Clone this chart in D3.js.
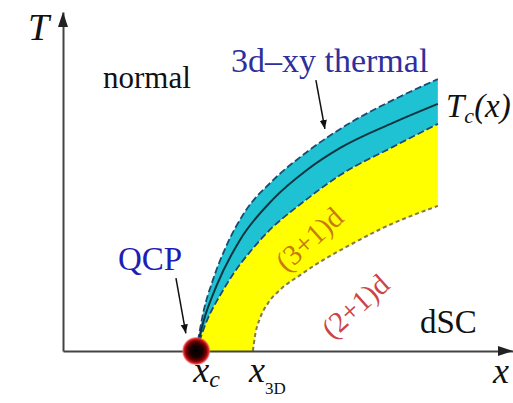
<!DOCTYPE html>
<html>
<head>
<meta charset="utf-8">
<script src="https://cdn.jsdelivr.net/npm/d3@7"></script>
<style>
  body { margin: 0; background: #fff; }
  svg text { font-family: "Liberation Serif", "DejaVu Serif", "Times New Roman", Times, serif; }
</style>
</head>
<body>
<div id="grafico"></div>
<script>
const width = 513
const height = 403
const serif = '"Liberation Serif", "DejaVu Serif", "Times New Roman", Times, serif'

// critical points on the doping axis
const xc = 2.96
const x3D = 4.22

// boundary curves, [x, T] in chart units
const thermalTop = [[2.96, 0], [3.13, 1.21], [3.33, 2.09], [3.64, 3.13], [4.04, 4.10], [4.67, 5.04], [5.42, 5.87], [6.38, 6.73], [7.33, 7.40], [8.33, 8.02]]
const tcLine = [[2.96, 0], [3.13, 0.91], [3.42, 1.95], [3.93, 3.27], [4.67, 4.48], [5.42, 5.34], [6.16, 5.99], [7.33, 6.73], [8.33, 7.29]]
const thermalBottom = [[2.96, 0], [3.16, 0.77], [3.56, 1.80], [4.38, 3.27], [5.42, 4.48], [6.16, 5.19], [7.33, 6.02], [8.33, 6.70]]
const quantumBottom = [[4.22, 0], [4.27, 0.47], [4.38, 0.97], [4.56, 1.42], [4.82, 1.80], [5.27, 2.24], [5.64, 2.57], [6.38, 3.13], [7.11, 3.63], [8.33, 4.28]]

// annotation arrows [[x0, T0], [x1, T1]]
const thermalArrow = [[5.62, 7.99], [5.82, 6.55]]
const qcpArrow = [[2.51, 2.15], [2.73, 0.52]]

const svg = d3.select('#grafico').append('svg')
              .attr('width', width)
              .attr('height', height)
              .attr('font-family', serif)

const x = d3.scaleLinear().domain([0, 10]).range([63, 513])
const y = d3.scaleLinear().domain([0, 10]).range([351, 12])

const defs = svg.append('defs')
defs.append('marker')
    .attr('id', 'head')
    .attr('viewBox', '0 0 10 10')
    .attr('refX', 10).attr('refY', 5)
    .attr('markerWidth', 9).attr('markerHeight', 9)
    .attr('markerUnits', 'userSpaceOnUse')
    .attr('orient', 'auto')
    .append('path').attr('d', 'M0,1L10,5L0,9Z').attr('fill', '#111')

const grad = defs.append('radialGradient').attr('id', 'qcp')
grad.selectAll('stop')
    .data([[0, '#000', 1], [0.45, '#1a0000', 1], [0.72, '#7a0000', 1], [0.88, '#d42020', 1], [1, '#ff8080', 0.6]])
    .enter().append('stop')
    .attr('offset', d => d[0])
    .attr('stop-color', d => d[1])
    .attr('stop-opacity', d => d[2])

const line = d3.line()
               .x(d => x(d[0]))
               .y(d => y(d[1]))
               .curve(d3.curveMonotoneX)

// filled bands
const yellowPath = line(thermalBottom) + 'L' + line(quantumBottom.slice().reverse()).slice(1) + 'Z'
svg.append('path').attr('d', yellowPath).attr('fill', '#ffff00')

const cyanPath = line(thermalTop) + 'L' + line(thermalBottom.slice().reverse()).slice(1) + 'Z'
svg.append('path').attr('d', cyanPath).attr('fill', '#1fc2d2')

// boundaries
svg.append('path').attr('d', line(quantumBottom))
   .attr('fill', 'none').attr('stroke', '#857a45').attr('stroke-width', 2).attr('stroke-dasharray', '4,3')
svg.append('path').attr('d', line(thermalBottom))
   .attr('fill', 'none').attr('stroke', '#1d4a72').attr('stroke-width', 1.8).attr('stroke-dasharray', '7,3')
svg.append('path').attr('d', line(thermalTop))
   .attr('fill', 'none').attr('stroke', '#1d4a72').attr('stroke-width', 1.8).attr('stroke-dasharray', '7,3')
svg.append('path').attr('d', line(tcLine))
   .attr('fill', 'none').attr('stroke', '#0c3440').attr('stroke-width', 2)

// axes without ticks
svg.append('g').attr('transform', `translate(0,${y(0)})`)
   .call(d3.axisBottom(x).tickValues([]).tickSizeOuter(0))
svg.append('g').attr('transform', `translate(${x(0)},0)`)
   .call(d3.axisLeft(y).tickValues([]).tickSizeOuter(0))
svg.selectAll('.domain').attr('stroke', '#444').attr('stroke-width', 2)

svg.append('path')
   .attr('d', `M${x(10)},${y(0)}L${x(10) - 15},${y(0) - 5}L${x(10) - 15},${y(0) + 5}Z`)
   .attr('fill', '#222')
svg.append('path')
   .attr('d', `M${x(0)},${y(10)}L${x(0) - 5},${y(10) + 15}L${x(0) + 5},${y(10) + 15}Z`)
   .attr('fill', '#222')

// arrows
svg.selectAll('.arrow')
   .data([thermalArrow, qcpArrow])
   .enter().append('line')
   .attr('x1', d => x(d[0][0])).attr('y1', d => y(d[0][1]))
   .attr('x2', d => x(d[1][0])).attr('y2', d => y(d[1][1]))
   .attr('stroke', '#111').attr('stroke-width', 1.5)
   .attr('marker-end', 'url(#head)')

// quantum critical point
svg.append('circle').attr('cx', x(xc)).attr('cy', y(0)).attr('r', 14).attr('fill', 'url(#qcp)')

// labels
function label(t, px, py, size, fill, italic) {
    return svg.append('text').attr('x', px).attr('y', py)
              .attr('font-family', serif)
              .attr('font-size', size).attr('fill', fill || '#111')
              .attr('font-style', italic ? 'italic' : 'normal')
              .text(t)
}
label('T', 28, 40, 38, '#111', true)
label('normal', 103, 88, 31)
label('3d\u2013xy thermal', 231, 72, 34, '#2e2e9c')
label('QCP', 118, 270, 33, '#1e1eb4')
label('dSC', 420, 333, 33)
label('x', 493, 383, 36, '#111', true)

const tc = label('T', 446, 117, 33, '#111', true)
tc.append('tspan').attr('font-size', 22).attr('dy', 6).text('c')
tc.append('tspan').attr('dy', -6).text('(x)')

const xcl = label('x', x(xc) - 3, 382, 36, '#111', true)
xcl.append('tspan').attr('font-size', 24).attr('dy', 5).text('c')

const x3l = label('x', x(x3D) - 4, 382, 36, '#111', true)
x3l.append('tspan').attr('font-size', 17).attr('font-style', 'normal').attr('dy', 12).text('3D')

svg.append('text')
   .attr('transform', 'translate(309,239) rotate(-42)')
   .attr('font-family', serif)
   .attr('text-anchor', 'middle').attr('dy', '0.35em')
   .attr('font-size', 29).attr('fill', '#c97a10')
   .text('(3+1)d')
svg.append('text')
   .attr('transform', 'translate(355,306) rotate(-42)')
   .attr('font-family', serif)
   .attr('text-anchor', 'middle').attr('dy', '0.35em')
   .attr('font-size', 29).attr('fill', '#cc4444')
   .text('(2+1)d')
</script>
</body>
</html>
